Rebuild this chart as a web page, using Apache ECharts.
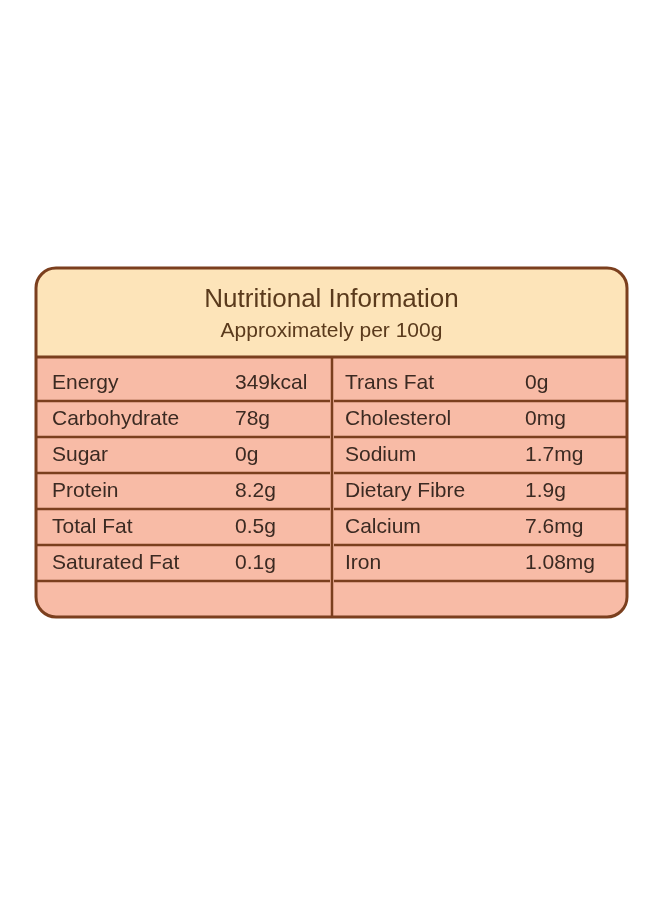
<!DOCTYPE html>
<html><head><meta charset="utf-8">
<script src="https://cdn.jsdelivr.net/npm/echarts@6/dist/echarts.min.js"></script>
<style>html,body{margin:0;background:#fff}#c{width:660px;height:900px}</style>
</head><body><div id="c"></div>
<script>
const title = "Nutritional Information";
const subtitle = "Approximately per 100g";
const leftNames = ["Energy","Carbohydrate","Sugar","Protein","Total Fat","Saturated Fat",""];
const leftValues = ["349kcal","78g","0g","8.2g","0.5g","0.1g",""];
const rightNames = ["Trans Fat","Cholesterol","Sodium","Dietary Fibre","Calcium","Iron",""];
const rightValues = ["0g","0mg","1.7mg","1.9g","7.6mg","1.08mg",""];

const chart = echarts.init(document.getElementById('c'));
const L=36,R=627,T=268,B=617,HB=357,DIV=332;
const rowTops=[HB,401,437,473,509,545,581,B];
const brown='#7b3f1e', txt='#3b2a22';
const g=[];
g.push({type:'rect',shape:{x:L,y:T,width:R-L,height:B-T,r:20},style:{fill:'#f8bba6',stroke:null}});
g.push({type:'rect',shape:{x:L,y:T,width:R-L,height:HB-T,r:[20,20,0,0]},style:{fill:'#fde4b9'}});
g.push({type:'line',shape:{x1:L,y1:HB,x2:R,y2:HB},style:{stroke:brown,lineWidth:3}});
for(let i=1;i<rowTops.length-1;i++){
  g.push({type:'line',shape:{x1:L,y1:rowTops[i],x2:DIV-2,y2:rowTops[i]},style:{stroke:brown,lineWidth:2.5}});
  g.push({type:'line',shape:{x1:DIV+2,y1:rowTops[i],x2:R,y2:rowTops[i]},style:{stroke:brown,lineWidth:2.5}});
}
g.push({type:'line',shape:{x1:DIV,y1:HB,x2:DIV,y2:B},style:{stroke:brown,lineWidth:2.5}});
g.push({type:'rect',shape:{x:L,y:T,width:R-L,height:B-T,r:20},style:{fill:null,stroke:brown,lineWidth:3}});
const font='"Liberation Sans", Arial, sans-serif';
g.push({type:'text',x:(L+R)/2,y:300,style:{text:title,font:'26px '+font,fill:'#5a3a1c',align:'center',verticalAlign:'middle'}});
g.push({type:'text',x:(L+R)/2,y:331,style:{text:subtitle,font:'21px '+font,fill:'#5a3a1c',align:'center',verticalAlign:'middle'}});
const cols=[[52,leftNames],[235,leftValues],[345,rightNames],[525,rightValues]];
for(let r=0;r<7;r++){
  const cy=(rowTops[r]+rowTops[r+1])/2+ (r===0?4:0);
  cols.forEach(([x,arr])=>{ if(arr[r]) g.push({type:'text',x:x,y:cy,style:{text:arr[r],font:'21px '+font,fill:txt,align:'left',verticalAlign:'middle'}}); });
}
chart.setOption({graphic:g});
</script></body></html>
